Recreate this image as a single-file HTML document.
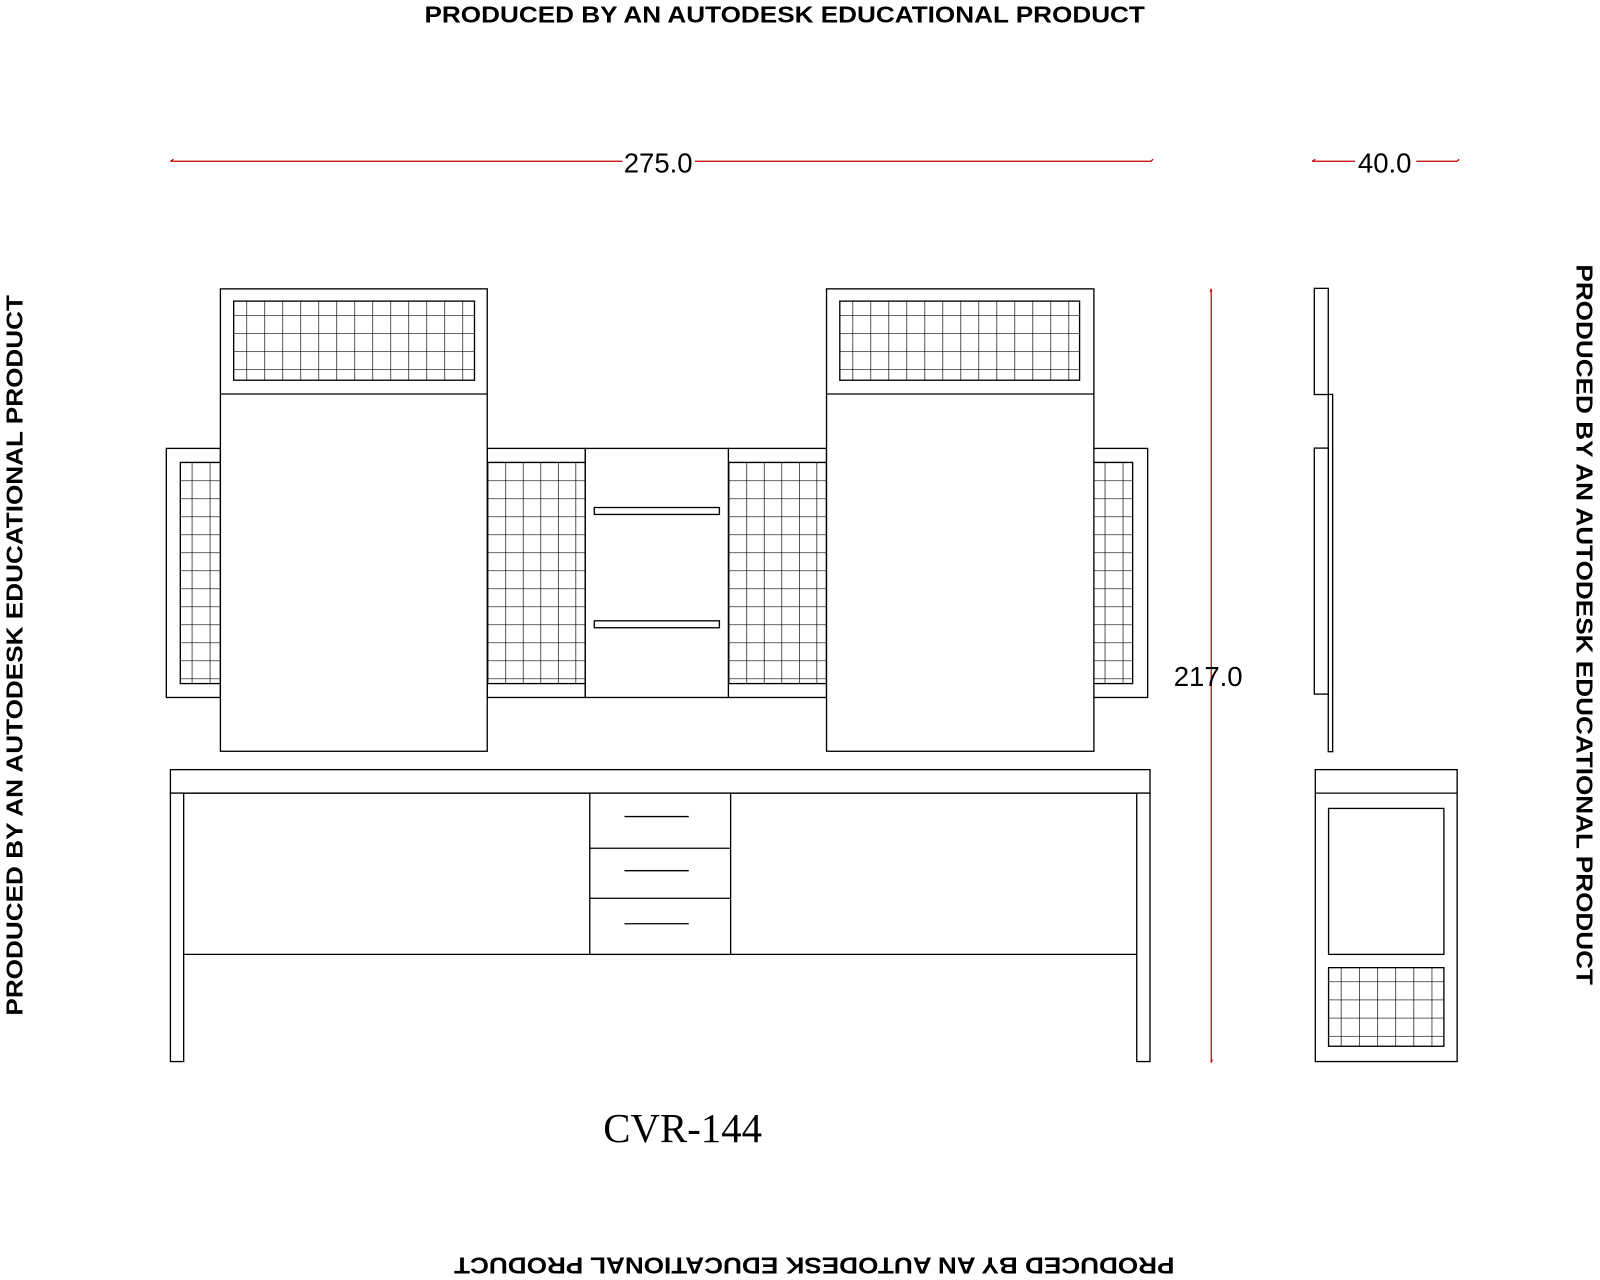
<!DOCTYPE html>
<html><head><meta charset="utf-8"><style>html,body{margin:0;padding:0;background:#fff}svg{display:block}</style></head>
<body>
<svg width="1600" height="1280" viewBox="0 0 1568 1254" preserveAspectRatio="none" xmlns="http://www.w3.org/2000/svg">
<defs>
<pattern id="gA" patternUnits="userSpaceOnUse" x="241.4" y="308.7" width="17.64" height="17.64"><path d="M0 0V17.64M0 0H17.64" stroke="#000" stroke-width="1.3" fill="none"/></pattern>
<pattern id="gB" patternUnits="userSpaceOnUse" x="835.4" y="308.7" width="17.64" height="17.64"><path d="M0 0V17.64M0 0H17.64" stroke="#000" stroke-width="1.3" fill="none"/></pattern>
<pattern id="gL" patternUnits="userSpaceOnUse" x="187.9" y="453" width="17.64" height="17.64"><path d="M0 0V17.64M0 0H17.64" stroke="#000" stroke-width="1.3" fill="none"/></pattern>
<pattern id="gM1" patternUnits="userSpaceOnUse" x="495.2" y="453" width="17.2" height="17.64"><path d="M0 0V17.64M0 0H17.64" stroke="#000" stroke-width="1.3" fill="none"/></pattern>
<pattern id="gM2" patternUnits="userSpaceOnUse" x="731.4" y="453" width="17.2" height="17.64"><path d="M0 0V17.64M0 0H17.64" stroke="#000" stroke-width="1.3" fill="none"/></pattern>
<pattern id="gR" patternUnits="userSpaceOnUse" x="1082.6" y="453" width="17.64" height="17.64"><path d="M0 0V17.64M0 0H17.64" stroke="#000" stroke-width="1.3" fill="none"/></pattern>
<pattern id="gS" patternUnits="userSpaceOnUse" x="1314" y="961.5" width="17.8" height="17.8"><path d="M0 0V17.8M0 0H17.8" stroke="#000" stroke-width="1.3" fill="none"/></pattern>
</defs>
<g font-family="Liberation Sans, Arial, sans-serif" font-weight="bold" font-size="23" fill="#000">
<text x="769" y="22" text-anchor="middle" textLength="706" lengthAdjust="spacingAndGlyphs">PRODUCED BY AN AUTODESK EDUCATIONAL PRODUCT</text>
<text transform="translate(22,642) rotate(-90)" text-anchor="middle" textLength="706" lengthAdjust="spacingAndGlyphs">PRODUCED BY AN AUTODESK EDUCATIONAL PRODUCT</text>
<text transform="translate(1545,612) rotate(90)" text-anchor="middle" textLength="706" lengthAdjust="spacingAndGlyphs">PRODUCED BY AN AUTODESK EDUCATIONAL PRODUCT</text>
<text transform="translate(798,1232) rotate(180)" text-anchor="middle" textLength="706" lengthAdjust="spacingAndGlyphs">PRODUCED BY AN AUTODESK EDUCATIONAL PRODUCT</text>
</g>
<g stroke="#c00000" stroke-width="1.2" fill="none">
<path d="M167 158H610M681 158H1128"/><path d="M167 158l3 -2M1128 158l2 -2"/>
<path d="M1286 158H1328M1388 158H1428"/><path d="M1286 158l3-2M1428 158l2-2"/>
<path d="M1187 283V1041"/><path d="M1187 283l-1 3M1187 1041l1-3"/>
</g>
<g font-family="Liberation Sans, Arial, sans-serif" font-size="27" fill="#000">
<text x="645" y="169" text-anchor="middle">275.0</text>
<text x="1357" y="169" text-anchor="middle">40.0</text>
<text x="1184" y="672" text-anchor="middle">217.0</text>
</g>
<g stroke="#000" stroke-width="1.3" fill="#fff">
<rect x="163" y="439.3" width="53" height="244"/>
<rect x="176.7" y="453" width="40" height="216.7" fill="url(#gL)"/>
<rect x="1071.5" y="439.3" width="53.2" height="244"/>
<rect x="1071.5" y="453" width="38.5" height="216.7" fill="url(#gR)"/>
<rect x="477.5" y="439.3" width="96" height="244"/>
<rect x="477.5" y="453" width="96" height="216.7" fill="url(#gM1)"/>
<rect x="713.8" y="439.3" width="96.2" height="244"/>
<rect x="713.8" y="453" width="96.2" height="216.7" fill="url(#gM2)"/>
<rect x="573.6" y="439.3" width="140.2" height="244"/>
<rect x="582.4" y="497.2" width="122.6" height="6.8"/>
<rect x="582.4" y="608.2" width="122.6" height="6.8"/>
<rect x="216" y="283" width="261.5" height="453"/>
<line x1="216" y1="386" x2="477.5" y2="386"/>
<rect x="229" y="295" width="236" height="77.5" fill="url(#gA)"/>
<rect x="810" y="283" width="262" height="453"/>
<line x1="810" y1="386" x2="1072" y2="386"/>
<rect x="823" y="295" width="235" height="77.5" fill="url(#gB)"/>
<rect x="167" y="754" width="960" height="23"/>
<rect x="167" y="777" width="13" height="263"/>
<rect x="1114" y="777" width="13" height="263"/>
<line x1="180" y1="935" x2="1114" y2="935"/>
<line x1="180" y1="777" x2="1114" y2="777"/>
<rect x="578" y="777" width="138" height="158"/>
<line x1="578" y1="831" x2="716" y2="831"/>
<line x1="578" y1="880" x2="716" y2="880"/>
<line x1="612" y1="800" x2="675" y2="800"/>
<line x1="612" y1="853" x2="675" y2="853"/>
<line x1="612" y1="905" x2="675" y2="905"/>
<rect x="1288" y="282.5" width="13.7" height="104"/>
<rect x="1301.7" y="386.4" width="4.3" height="350"/>
<rect x="1288" y="439" width="13.7" height="241"/>
<rect x="1289" y="754" width="139" height="286"/>
<line x1="1289" y1="777" x2="1428" y2="777"/>
<rect x="1302" y="792" width="113" height="143"/>
<rect x="1302" y="948" width="113" height="77" fill="url(#gS)"/>
</g>
<text x="669" y="1119" text-anchor="middle" font-family="Liberation Serif, Times New Roman, serif" font-size="40" fill="#000">CVR-144</text>
</svg>
</body></html>
